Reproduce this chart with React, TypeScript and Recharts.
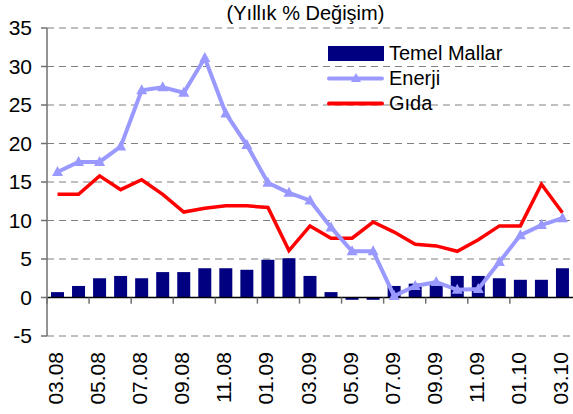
import {
  ComposedChart,
  Bar,
  Line,
  XAxis,
  YAxis,
  CartesianGrid,
  ReferenceLine,
} from "recharts";

const months = [
  "03.08", "04.08", "05.08", "06.08", "07.08", "08.08", "09.08", "10.08", "11.08", "12.08",
  "01.09", "02.09", "03.09", "04.09", "05.09", "06.09", "07.09", "08.09", "09.09", "10.09",
  "11.09", "12.09", "01.10", "02.10", "03.10",
];
const temelMallar = [
  0.7, 1.5, 2.5, 2.8, 2.5, 3.3, 3.3, 3.8, 3.8, 3.6, 4.9, 5.1, 2.8, 0.7, -0.3, -0.3, 1.5, 1.8,
  1.7, 2.8, 2.8, 2.5, 2.3, 2.3, 3.8,
];
const enerji = [
  16.3, 17.6, 17.6, 19.6, 26.9, 27.3, 26.6, 31.1, 23.9, 19.8, 14.9, 13.6, 12.6, 9.1, 6.0, 6.0,
  0.2, 1.5, 2.0, 1.0, 1.1, 4.6, 8.1, 9.4, 10.3,
];
const gida = [
  13.4, 13.4, 15.8, 14.0, 15.3, 13.4, 11.1, 11.6, 11.9, 11.9, 11.7, 6.1, 9.3, 7.7, 7.7, 9.8,
  8.5, 6.9, 6.7, 6.0, 7.5, 9.3, 9.3, 14.7, 11.0,
];
const yTicks = [-5, 0, 5, 10, 15, 20, 25, 30, 35];

const data = months.map((m, i) => ({
  i,
  m,
  temel: temelMallar[i],
  enerji: enerji[i],
  gida: gida[i],
}));

// every second month gets a label; tick marks sit on the band edges
const labelIdx = months.map((_, i) => i).filter((i) => i % 2 === 0);
const edgeIdx = labelIdx.filter((i) => i < months.length - 1).map((i) => i - 0.5);

const FONT = "'Liberation Sans', Arial, sans-serif";
const NAVY = "#000080";
const BLUE = "#9999FF";
const RED = "#FF0000";

const Triangle = (p: any) => {
  const { cx, cy, index } = p;
  if (cx == null || cy == null) return <g key={index} />;
  return (
    <polygon
      key={index}
      points={`${cx},${cy - 6} ${cx - 5.5},${cy + 4} ${cx + 5.5},${cy + 4}`}
      fill={BLUE}
    />
  );
};

const MonthTick = (p: any) => {
  const { x, y, payload } = p;
  const tx = x - 2;
  const ty = y + 14;
  return (
    <text
      x={tx}
      y={ty}
      transform={`rotate(-90, ${tx}, ${ty})`}
      textAnchor="end"
      dominantBaseline="central"
      fontSize={21}
      fontFamily={FONT}
      fill="#000"
    >
      {months[payload.value]}
    </text>
  );
};

function LegendBox() {
  const row: any = { display: "flex", alignItems: "center", height: 25 };
  const label: any = { marginLeft: 5, fontSize: 20, fontFamily: FONT, color: "#000" };
  return (
    <div style={{ position: "absolute", left: 327, top: 41 }}>
      <div style={row}>
        <svg width={57} height={25}>
          <rect x={1} y={5} width={56} height={15} fill={NAVY} />
        </svg>
        <span style={label}>Temel Mallar</span>
      </div>
      <div style={row}>
        <svg width={57} height={25}>
          <line x1={2} y1={12.5} x2={55} y2={12.5} stroke={BLUE} strokeWidth={4} strokeLinecap="round" />
          <polygon points="29,7 24,16 34,16" fill={BLUE} />
        </svg>
        <span style={label}>Enerji</span>
      </div>
      <div style={row}>
        <svg width={57} height={25}>
          <line x1={2} y1={12.5} x2={55} y2={12.5} stroke={RED} strokeWidth={4} strokeLinecap="round" />
        </svg>
        <span style={label}>Gıda</span>
      </div>
    </div>
  );
}

export default function App() {
  return (
    <div style={{ position: "absolute", left: 0, top: 0, width: 573, height: 414, background: "#fff" }}>
      <div
        style={{
          position: "absolute",
          top: 3,
          left: 0,
          width: 611,
          textAlign: "center",
          fontSize: 20,
          lineHeight: "20px",
          fontFamily: FONT,
          color: "#000",
          whiteSpace: "nowrap",
        }}
      >
        (Yıllık % Değişim)
      </div>
      <ComposedChart
        width={573}
        height={414}
        data={data}
        margin={{ top: 28, right: 0, left: 0, bottom: 0 }}
      >
        <CartesianGrid vertical={false} stroke="#808080" strokeDasharray="7 5" />
        <XAxis
          type="number"
          dataKey="i"
          domain={[-0.5, months.length - 0.5]}
          ticks={labelIdx}
          interval={0}
          axisLine={false}
          tickLine={false}
          tickSize={0}
          height={78}
          tick={<MonthTick />}
        />
        <YAxis
          width={47}
          domain={[-5, 35]}
          ticks={yTicks}
          interval={0}
          axisLine={{ stroke: "#707070", strokeWidth: 1.5 }}
          tickLine={{ stroke: "#707070", strokeWidth: 1.5 }}
          tickSize={6}
          tickMargin={9}
          tick={{ fontSize: 21, fontFamily: FONT, fill: "#000" }}
        />
        <Bar dataKey="temel" fill={NAVY} barSize={13} isAnimationActive={false} />
        <ReferenceLine y={0} stroke="#000" strokeWidth={1.5} />
        {edgeIdx.map((e) => (
          <ReferenceLine
            key={e}
            segment={[
              { x: e, y: 0 },
              { x: e, y: -0.8 },
            ]}
            stroke="#707070"
            strokeWidth={1.5}
          />
        ))}
        <Line
          dataKey="gida"
          stroke={RED}
          strokeWidth={3.5}
          dot={false}
          isAnimationActive={false}
        />
        <Line
          dataKey="enerji"
          stroke={BLUE}
          strokeWidth={4}
          dot={<Triangle />}
          isAnimationActive={false}
        />
      </ComposedChart>
      <LegendBox />
    </div>
  );
}
